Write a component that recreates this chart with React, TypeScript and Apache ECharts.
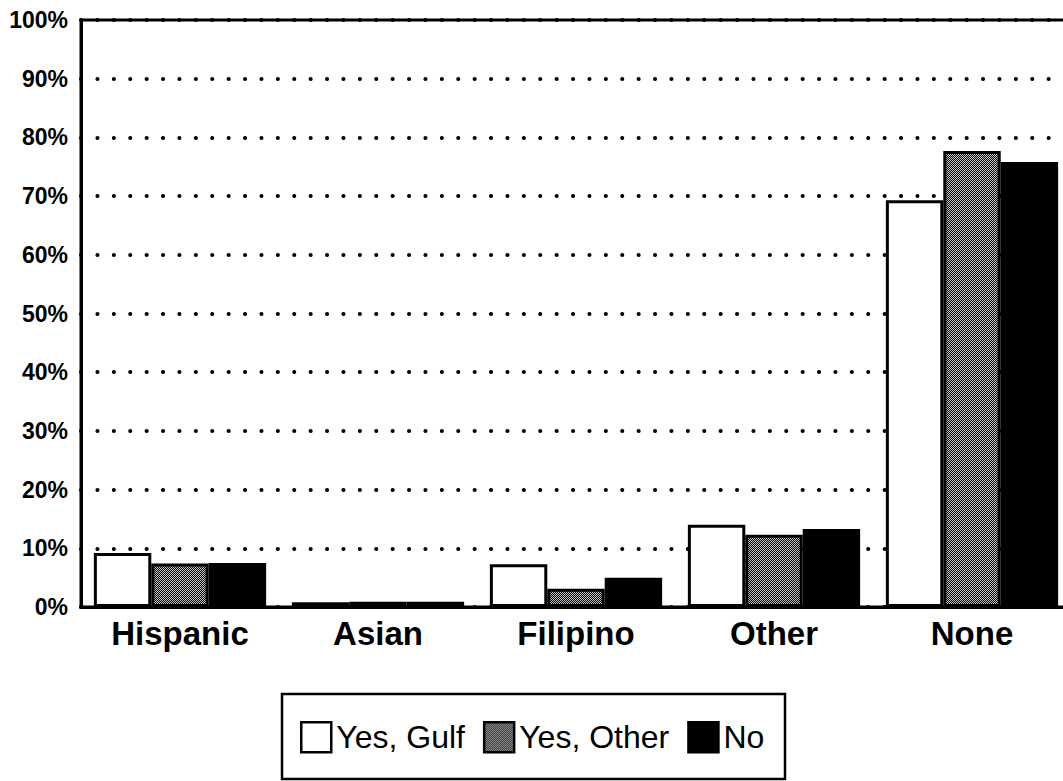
import React, { useEffect, useRef } from "react";
import * as echarts from "echarts";

const categories = ["Hispanic", "Asian", "Filipino", "Other", "None"];
const seriesNames = ["Yes, Gulf", "Yes, Other", "No"];
const yesGulf = [9.2, 0.8, 7.3, 14.0, 69.3];
const yesOther = [7.4, 0.9, 3.1, 12.3, 77.7];
const noValues = [7.5, 0.9, 5.0, 13.3, 75.8];

function makeDither(): string {
  const c = document.createElement("canvas");
  c.width = 2;
  c.height = 2;
  const ctx = c.getContext("2d")!;
  ctx.fillStyle = "#000";
  ctx.fillRect(0, 0, 2, 2);
  ctx.fillStyle = "#c8c8c8";
  ctx.fillRect(0, 0, 1, 1);
  ctx.fillRect(1, 1, 1, 1);
  return c.toDataURL();
}

export default function App() {
  const ref = useRef<HTMLDivElement>(null);
  useEffect(() => {
    if (!ref.current) return;
    const chart = echarts.init(ref.current, undefined, { renderer: "svg" });
    const grey = { image: makeDither(), repeat: "repeat" } as any;
    const font = "'Liberation Sans', Arial, Helvetica, sans-serif";
    const colors = ["#ffffff", grey, "#000000"];
    const datas = [yesGulf, yesOther, noValues];
    chart.setOption({
      animation: false,
      backgroundColor: "#ffffff",
      grid: {
        left: 81,
        top: 20,
        right: 0,
        bottom: 174,
        show: true,
        borderColor: "#000",
        borderWidth: 3,
        backgroundColor: "transparent",
      },
      legend: {
        data: seriesNames,
        left: 300,
        top: 721,
        padding: 0,
        itemWidth: 30,
        itemHeight: 30,
        itemGap: 18,
        icon: "rect",
        itemStyle: { borderColor: "#000", borderWidth: 2.5 },
        textStyle: { fontFamily: font, fontSize: 32, color: "#000" },
        selectedMode: false,
      },
      graphic: [
        {
          type: "rect",
          shape: { x: 282, y: 694, width: 503, height: 85 },
          style: { fill: "none", stroke: "#000", lineWidth: 2.5 },
        },
      ],
      xAxis: {
        type: "category",
        data: categories,
        axisLine: { show: true, lineStyle: { color: "#000", width: 3 } },
        axisTick: { show: false },
        axisLabel: {
          color: "#000",
          fontFamily: font,
          fontSize: 33,
          fontWeight: "bold",
          margin: 10,
        },
      },
      yAxis: {
        type: "value",
        min: 0,
        max: 100,
        interval: 10,
        axisLine: { show: true, lineStyle: { color: "#000", width: 3 } },
        axisTick: { show: false },
        axisLabel: {
          color: "#000",
          fontFamily: font,
          fontSize: 23,
          fontWeight: "bold",
          margin: 13,
          formatter: (v: number) => v + "%",
        },
        splitLine: {
          show: true,
          lineStyle: { color: "#000", width: 4, type: [0.1, 16.3], cap: "round" },
        },
      },
      series: seriesNames.map((name, i) => ({
        name,
        type: "bar",
        data: datas[i],
        barGap: "0%",
        barCategoryGap: "13%",
        itemStyle: { color: colors[i], borderColor: "#000", borderWidth: 3 },
      })),
    });
    return () => chart.dispose();
  }, []);
  return (
    <div
      style={{
        position: "absolute",
        left: 0,
        top: 0,
        width: 1063,
        height: 781,
        overflow: "hidden",
      }}
    >
      <div ref={ref} style={{ width: 1071, height: 781 }} />
    </div>
  );
}
